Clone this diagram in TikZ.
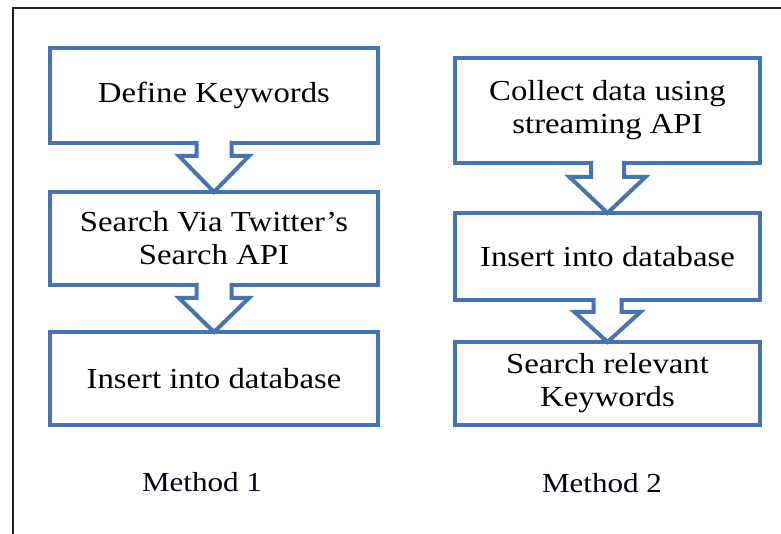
\documentclass[tikz,border=0pt]{standalone}
\usepackage{fontspec}
\setmainfont[FakeStretch=1.13]{Liberation Serif}
\usetikzlibrary{calc}

\definecolor{flowblue}{RGB}{70,116,178}
\definecolor{framegray}{RGB}{30,30,30}

\tikzset{
  flowbox/.style={draw=flowblue, line width=4pt, fill=white, rectangle,
    outer sep=0pt, inner sep=0pt, align=center,
    font=\fontsize{29}{33}\selectfont},
  arrowline/.style={draw=flowblue, line width=4pt, fill=white, line join=miter},
  caption/.style={font=\fontsize{27.5}{33}\selectfont, text=black!90!blue}
}

% block arrow: from node, to node, shaft half width, head half width, shaft length
\newcommand{\blockarrow}[5]{%
  \path[arrowline]
    ($(#1.south)+(-#3,-2)$) -- ($(#1.south)+(-#3,#5)$)
    -- ($(#1.south)+(-#4,#5)$) -- (#2.north)
    -- ($(#1.south)+(#4,#5)$) -- ($(#1.south)+(#3,#5)$)
    -- ($(#1.south)+(#3,-2)$);
}

\begin{document}
\begin{tikzpicture}[x=1pt,y=-1pt]
  \useasboundingbox (0,0) rectangle (781,534);
  \fill[white] (0,0) rectangle (781,534);

  % frame
  \draw[framegray, line width=2pt] (13,540) -- (13,8) -- (790,8);

  % Method 1
  \node[flowbox, minimum width=328pt, minimum height=95pt] (l1) at (214,95.5) {Define Keywords};
  \node[flowbox, minimum width=328pt, minimum height=93pt] (l2) at (214,238.5) {Search Via Twitter’s\\Search API};
  \node[flowbox, minimum width=328pt, minimum height=93pt] (l3) at (214,378.5) {Insert into database};

  % Method 2
  \node[flowbox, minimum width=305pt, minimum height=105pt] (r1) at (607.5,110.5) {Collect data using\\streaming API};
  \node[flowbox, minimum width=305pt, minimum height=87pt] (r2) at (607.5,256.5) {Insert into database};
  \node[flowbox, minimum width=305pt, minimum height=83pt] (r3) at (607.5,383.5) {Search relevant\\Keywords};

  % connectors
  \blockarrow{l1}{l2}{17.5}{35}{13}
  \blockarrow{l2}{l3}{17.5}{35}{13}
  \blockarrow{r1}{r2}{16.5}{38}{14}
  \blockarrow{r2}{r3}{14}{33}{12}

  % captions
  \node[caption] (m1) at (202,482) {Method 1};
  \node[caption] (m2) at (602,483) {Method 2};
\end{tikzpicture}
\end{document}
